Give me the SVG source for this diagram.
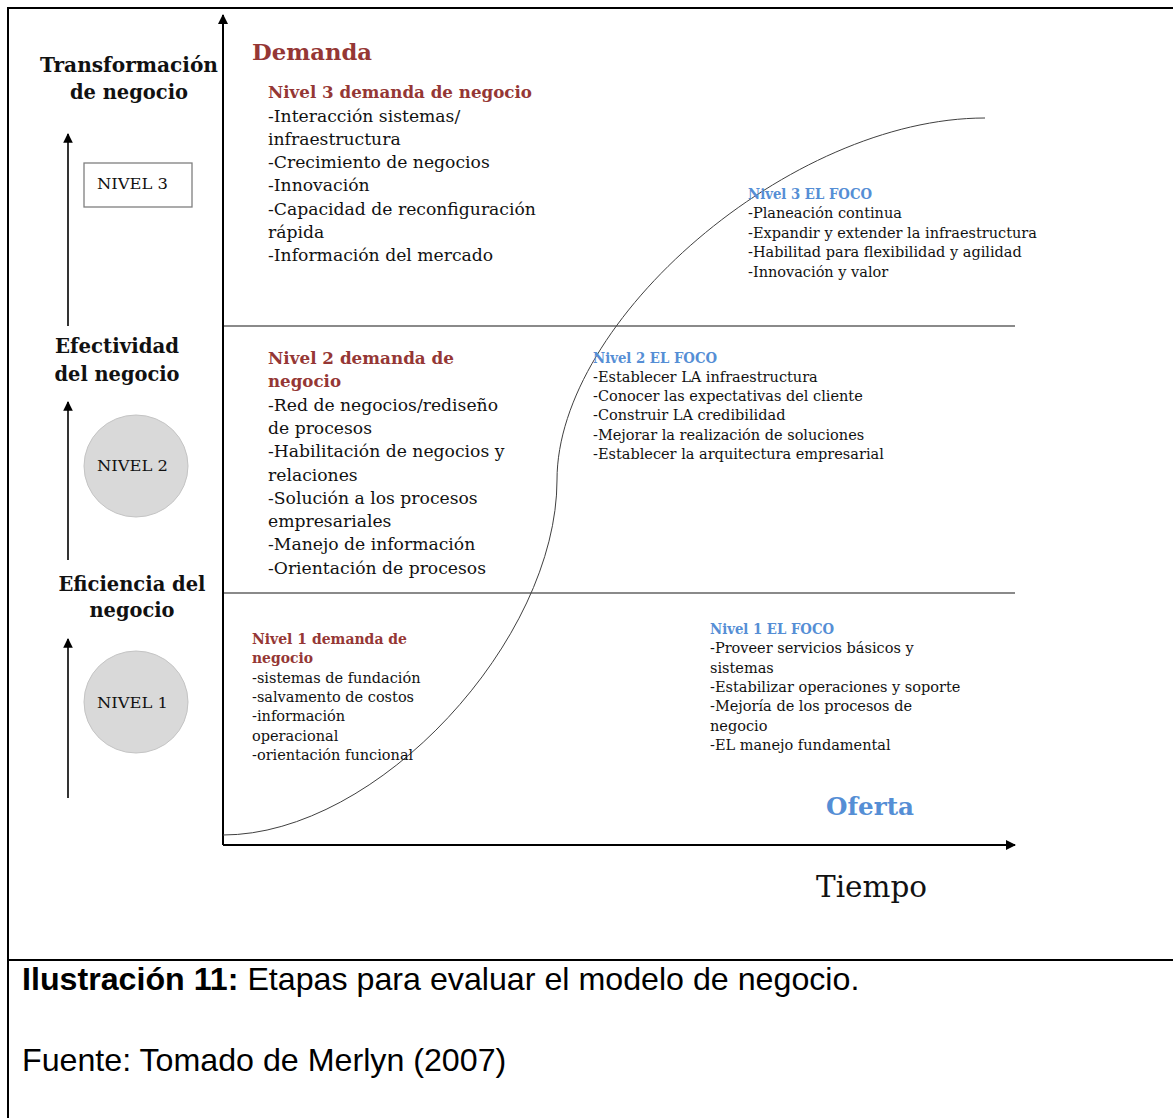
<svg xmlns="http://www.w3.org/2000/svg" width="1173" height="1118" viewBox="0 0 1173 1118">
  <defs>
    <marker id="arrowBig" viewBox="0 0 10 10" refX="9" refY="5" markerWidth="5" markerHeight="5" orient="auto" markerUnits="strokeWidth">
      <path d="M0,0 L10,5 L0,10 z" fill="#000"/>
    </marker>
    <marker id="arrowSmall" viewBox="0 0 10 10" refX="9" refY="5" markerWidth="6" markerHeight="6" orient="auto" markerUnits="strokeWidth">
      <path d="M0,0 L10,5 L0,10 z" fill="#000"/>
    </marker>
    <style>
      .serif { font-family: "DejaVu Serif", "Liberation Serif", serif; fill: #111; }
      .axisTitle { font-size: 20px; font-weight: bold; text-anchor: middle; }
      .body17 { font-size: 17.2px; }
      .body14 { font-size: 14.5px; }
      .red { fill: #953735; font-weight: bold; }
      .blue { fill: #558ed5; font-weight: bold; }
      .lvl { font-size: 15.5px; }
      .sans { font-family: "Liberation Sans", Arial, sans-serif; font-size: 32.2px; fill: #000; }
      .divider { stroke: #8a8a8a; stroke-width: 2; }
      .axis { stroke: #000; stroke-width: 2; fill: none; }
      .sideArrow { stroke: #000; stroke-width: 1.6; fill: none; }
      .disc { fill: #d9d9d9; stroke: #c4c4c4; stroke-width: 1; }
    </style>
  </defs>

  <rect width="1173" height="1118" fill="#fff"/>

  <!-- outer frame and caption separator -->
  <g id="frame" stroke="#000" stroke-width="2" fill="none">
    <path d="M8,1118 L8,8 L1173,8"/>
    <line x1="8" y1="960" x2="1173" y2="960"/>
  </g>

  <!-- axes, dividers, side arrows and the S-curve -->
  <g id="connectors">
    <line class="divider" x1="223" y1="326" x2="1015" y2="326"/>
    <line class="divider" x1="223" y1="593" x2="1015" y2="593"/>
    <line class="axis" x1="223" y1="845" x2="223" y2="15" marker-end="url(#arrowBig)"/>
    <line class="axis" x1="223" y1="845" x2="1015" y2="845" marker-end="url(#arrowBig)"/>
    <line class="sideArrow" x1="68" y1="326" x2="68" y2="134" marker-end="url(#arrowSmall)"/>
    <line class="sideArrow" x1="68" y1="560" x2="68" y2="402" marker-end="url(#arrowSmall)"/>
    <line class="sideArrow" x1="68" y1="798" x2="68" y2="639" marker-end="url(#arrowSmall)"/>
    <path d="M223,835 C378,835 557,640 557,480 C557,320 790,118 985,118" fill="none" stroke="#404040" stroke-width="1"/>
  </g>

  <!-- left column: business stages -->
  <g id="stage-transformacion" class="serif axisTitle">
    <text x="129" y="72" textLength="178" lengthAdjust="spacingAndGlyphs">Transformación</text>
    <text x="129" y="99" textLength="118" lengthAdjust="spacingAndGlyphs">de negocio</text>
  </g>
  <g id="stage-efectividad" class="serif axisTitle">
    <text x="117" y="353" textLength="124" lengthAdjust="spacingAndGlyphs">Efectividad</text>
    <text x="117" y="381" textLength="125" lengthAdjust="spacingAndGlyphs">del negocio</text>
  </g>
  <g id="stage-eficiencia" class="serif axisTitle">
    <text x="132" y="591" textLength="147" lengthAdjust="spacingAndGlyphs">Eficiencia del</text>
    <text x="132" y="617" textLength="85" lengthAdjust="spacingAndGlyphs">negocio</text>
  </g>

  <g id="nivel-3">
    <rect x="84" y="163" width="108" height="44" fill="#fff" stroke="#7f7f7f" stroke-width="1.3"/>
    <text class="serif lvl" x="97" y="189" textLength="71" lengthAdjust="spacingAndGlyphs">NIVEL 3</text>
  </g>
  <g id="nivel-2">
    <ellipse class="disc" cx="136" cy="466" rx="52" ry="51"/>
    <text class="serif lvl" x="97" y="471" textLength="71" lengthAdjust="spacingAndGlyphs">NIVEL 2</text>
  </g>
  <g id="nivel-1">
    <ellipse class="disc" cx="136" cy="702" rx="52" ry="51"/>
    <text class="serif lvl" x="97" y="708" textLength="71" lengthAdjust="spacingAndGlyphs">NIVEL 1</text>
  </g>

  <!-- demand side -->
  <g id="demanda">
    <text class="serif red" x="252" y="60" font-size="23" textLength="120" lengthAdjust="spacingAndGlyphs">Demanda</text>
  </g>

  <g id="demanda-nivel-3" class="serif body17">
    <text class="red" x="268" y="98" textLength="264" lengthAdjust="spacingAndGlyphs">Nivel 3 demanda de negocio</text>
    <text x="268" y="121.5">-Interacción sistemas/</text>
    <text x="268" y="144.8">infraestructura</text>
    <text x="268" y="168.1">-Crecimiento de negocios</text>
    <text x="268" y="191.4">-Innovación</text>
    <text x="268" y="214.7">-Capacidad de reconfiguración</text>
    <text x="268" y="238">rápida</text>
    <text x="268" y="261.3">-Información del mercado</text>
  </g>

  <g id="demanda-nivel-2" class="serif body17">
    <text class="red" x="268" y="364" textLength="186" lengthAdjust="spacingAndGlyphs">Nivel 2 demanda de</text>
    <text class="red" x="268" y="387.3" textLength="73" lengthAdjust="spacingAndGlyphs">negocio</text>
    <text x="268" y="410.6">-Red de negocios/rediseño</text>
    <text x="268" y="433.9">de procesos</text>
    <text x="268" y="457.2">-Habilitación de negocios y</text>
    <text x="268" y="480.5">relaciones</text>
    <text x="268" y="503.8">-Solución a los procesos</text>
    <text x="268" y="527.1">empresariales</text>
    <text x="268" y="550.4">-Manejo de información</text>
    <text x="268" y="573.7">-Orientación de procesos</text>
  </g>

  <g id="demanda-nivel-1" class="serif body14">
    <text class="red" x="252" y="644" textLength="155" lengthAdjust="spacingAndGlyphs">Nivel 1 demanda de</text>
    <text class="red" x="252" y="663.3" textLength="61" lengthAdjust="spacingAndGlyphs">negocio</text>
    <text x="252" y="682.6">-sistemas de fundación</text>
    <text x="252" y="701.9">-salvamento de costos</text>
    <text x="252" y="721.2">-información</text>
    <text x="252" y="740.5">operacional</text>
    <text x="252" y="759.8">-orientación funcional</text>
  </g>

  <!-- supply side: focus per level -->
  <g id="foco-nivel-3" class="serif body14">
    <text class="blue" x="748" y="198.5" textLength="124" lengthAdjust="spacingAndGlyphs">Nivel 3 EL FOCO</text>
    <text x="748" y="218">-Planeación continua</text>
    <text x="748" y="237.5">-Expandir y extender la infraestructura</text>
    <text x="748" y="257">-Habilitad para flexibilidad y agilidad</text>
    <text x="748" y="276.5">-Innovación y valor</text>
  </g>

  <g id="foco-nivel-2" class="serif body14">
    <text class="blue" x="593" y="362.5" textLength="124" lengthAdjust="spacingAndGlyphs">Nivel 2 EL FOCO</text>
    <text x="593" y="381.5">-Establecer LA infraestructura</text>
    <text x="593" y="401">-Conocer las expectativas del cliente</text>
    <text x="593" y="420">-Construir LA credibilidad</text>
    <text x="593" y="439.5">-Mejorar la realización de soluciones</text>
    <text x="593" y="459">-Establecer la arquitectura empresarial</text>
  </g>

  <g id="foco-nivel-1" class="serif body14">
    <text class="blue" x="710" y="633.5" textLength="124" lengthAdjust="spacingAndGlyphs">Nivel 1 EL FOCO</text>
    <text x="710" y="653">-Proveer servicios básicos y</text>
    <text x="710" y="672.5">sistemas</text>
    <text x="710" y="692">-Estabilizar operaciones y soporte</text>
    <text x="710" y="711">-Mejoría de los procesos de</text>
    <text x="710" y="730.5">negocio</text>
    <text x="710" y="750">-EL manejo fundamental</text>
  </g>

  <g id="oferta">
    <text class="serif blue" x="826" y="815" font-size="25" textLength="88" lengthAdjust="spacingAndGlyphs">Oferta</text>
  </g>

  <g id="tiempo">
    <text class="serif" x="816" y="897" font-size="29" textLength="111" lengthAdjust="spacingAndGlyphs">Tiempo</text>
  </g>

  <!-- caption -->
  <g id="caption" class="sans">
    <text x="22" y="990"><tspan font-weight="bold">Ilustración 11:</tspan> Etapas para evaluar el modelo de negocio.</text>
    <text x="22" y="1071">Fuente: Tomado de Merlyn (2007)</text>
  </g>
</svg>
